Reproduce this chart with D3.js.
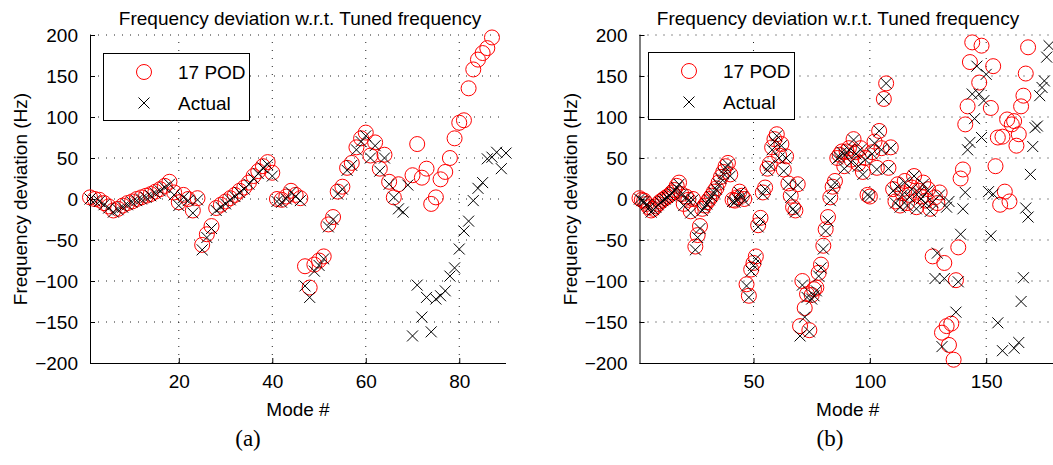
<!DOCTYPE html>
<html>
<head>
<meta charset="utf-8">
<script src="https://cdn.jsdelivr.net/npm/d3@7"></script>
<style>
  html, body { margin: 0; padding: 0; background: #fff; }
  svg { display: block; }
  text { font-family: "Liberation Sans", Arial, Helvetica, sans-serif; fill: #000; }
</style>
</head>
<body>
<svg id="chart" width="1053" height="465"></svg>
<script>
// Frequency deviation of each mode (Hz); index i is mode number i + 1, null = off scale.
const actualA = [
  0, -2, -3, -7, -11, -16, -13, -10, -7, -4,
  -2, 0, 2, 4, 7, 10, 14, 18, 5, -8,
  2, -2, -17, -1, -62, -47, -36, -14, -10, -6,
  -1, 3, 8, 12, 18, 25, 31, 38, 42, 28,
  -3, -4, 0, 8, 3, -2, -106, -120, -88, -81,
  -73, -34, -25, 6, 12, 35, 41, 60, 70, 77,
  50, 65, 34, 50, 18, 2, -12, -16, 17, -167,
  -105, -144, -120, -162, -122, -118, -112, -94, -84, -61,
  -39, -27, -2, 13, 20, 49, 51, 57, 37, 56
];
const podA = [
  2, 0, -1, -5, -9, -14, -12, -8, -5, -3,
  0, 2, 4, 6, 9, 12, 16, 21, 8, -4,
  5, 0, -14, 1, -56, -43, -33, -11, -7, -3,
  1, 5, 10, 14, 20, 28, 34, 40, 45, 32,
  0, -1, 3, 10, 5, 1, -82, -108, -80, -75,
  -70, -31, -22, 9, 15, 38, 44, 63, 74, 81,
  53, 69, 37, 54, 21, 2, 18, null, null, 29,
  67, 26, 37, -6, 2, 24, 33, 50, 74, 93,
  96, 135, 158, 170, 178, 184, 197, null, null, null
];
const actualB = [
  0, -2, -3, -7, -11, -16, -13, -10, -7, -4,
  -2, 0, 2, 4, 7, 10, 14, 18, 5, -8,
  2, -2, -17, -1, -62, -47, -36, -14, -10, -6,
  -1, 3, 8, 12, 18, 25, 31, 38, 42, 28,
  -3, -4, 0, 8, 3, -2, -106, -120, -88, -81,
  -73, -34, -25, 6, 12, 35, 41, 60, 70, 77,
  50, 65, 34, 50, 18, 2, -12, -16, 17, -167,
  -105, -144, -120, -162, -122, -118, -112, -94, -84, -61,
  -39, -27, -2, 13, 20, 49, 51, 57, 37, 56,
  60, 45, 72, 55, 40, 60, 30, 48, 5, 3,
  55, 68, 36, 83, 60, 122, 141, 37, 62, 10,
  -5, 15, -10, 5, 20, -8, 2, 12, 28, -12,
  8, 0, 18, -5, 10, -15, -4, -97, -66, 5,
  -180, -97, -10, -3, null, null, -138, -101, -43, -12,
  8, 60, 69, 128, 98, 162, 128, 75, 120, 152,
  9, -45, 6, null, -151, null, -185, null, null, null,
  null, -182, null, -175, -125, -96, -11, -22, 30, 64,
  87, 89, 126, 136, 144, 173, 187, null
];
const podB = [
  1, -1, -2, -6, -10, -14, -12, -9, -6, -3,
  -1, 1, 3, 5, 8, 11, 16, 20, 6, -6,
  3, -1, -15, 0, -58, -44, -33, -12, -8, -4,
  0, 4, 9, 13, 20, 27, 33, 40, 44, 30,
  -1, -2, 2, 9, 4, 0, -104, -118, -86, -78,
  -70, -32, -23, 8, 14, 37, 43, 63, 73, 79,
  53, 67, 36, 52, 19, 4, -10, -14, 18, -155,
  -100, -133, -116, -160, -117, -110, -108, -90, -80, -57,
  -37, -22, 2, 15, 22, 50, 54, 58, 40, 58,
  62, 48, 73, 57, 43, 62, 33, 50, 5, 3,
  57, 70, 38, 83, 62, 122, 141, 38, 63, 12,
  -3, 18, -8, 7, 22, -5, 5, 14, 28, -10,
  10, 3, 20, -2, 12, -12, -70, 2, -5, 8,
  -163, -78, -155, -178, -152, -196, -99, -59, 25, 36,
  91, 113, 167, 191, null, null, 142, 187, null, null,
  null, 111, 162, 40, 75, -7, 76, 9, 97, -3,
  91, 95, 65, 79, 113, 126, 153, 185, null, null,
  null, null, null, null, null, null, null, null
];

const yTicks = [-200, -150, -100, -50, 0, 50, 100, 150, 200];
const xTicksA = [20, 40, 60, 80];
const xTicksB = [50, 100, 150];
const seriesNames = ["17 POD", "Actual"];
const titleText = "Frequency deviation w.r.t. Tuned frequency";
const xLabel = "Mode #";
const yLabel = "Frequency deviation (Hz)";

const svg = d3.select("#chart");
const fmt = d => (d < 0 ? "\u2212" + Math.abs(d) : String(d));

function toPoints(values) {
  return values.map((v, i) => ({ mode: i + 1, v })).filter(d => d.v !== null);
}

function panel(cfg) {
  const x = d3.scaleLinear().domain(cfg.xDomain).range(cfg.xRange);
  const y = d3.scaleLinear().domain([-200, 200]).range([363, 35]);
  const g = svg.append("g");
  const [x0, x1] = cfg.xRange;

  // dotted grid
  g.append("g").selectAll("line").data(yTicks.filter(t => t > -200)).join("line")
    .attr("x1", x0).attr("x2", x1)
    .attr("y1", d => y(d)).attr("y2", d => y(d))
    .attr("stroke", "#222").attr("stroke-width", 1)
    .attr("stroke-dasharray", "1,7");
  g.append("g").selectAll("line").data(cfg.xTicks).join("line")
    .attr("x1", d => x(d)).attr("x2", d => x(d))
    .attr("y1", y(-200)).attr("y2", y(200))
    .attr("stroke", "#222").attr("stroke-width", 1)
    .attr("stroke-dasharray", "1,7");

  // axes (inward ticks, left and bottom only)
  const ax = d3.axisBottom(x).tickValues(cfg.xTicks).tickSize(-5).tickPadding(12).tickFormat(d3.format("d"));
  const ay = d3.axisLeft(y).tickValues(yTicks).tickSize(-5).tickPadding(12).tickFormat(fmt);
  const gx = g.append("g").attr("transform", `translate(0,${y(-200)})`).call(ax);
  const gy = g.append("g").attr("transform", `translate(${x0},0)`).call(ay);
  [gx, gy].forEach(a => {
    a.select(".domain").attr("stroke", "#000").attr("stroke-width", 1);
    a.selectAll(".tick line").attr("stroke", "#000");
    a.selectAll(".tick text").attr("font-size", 19).attr("font-family", "Liberation Sans, Arial, sans-serif").attr("fill", "#000");
  });
  gy.select(".domain").attr("d", `M0.5,${y(-200)}V${y(200)}`);
  gx.select(".domain").attr("d", `M${x0},0.5H${x1}`);

  // POD estimates: red open circles
  g.append("g").selectAll("circle").data(toPoints(cfg.pod)).join("circle")
    .attr("cx", d => x(d.mode)).attr("cy", d => y(d.v)).attr("r", 7.5)
    .attr("fill", "none").attr("stroke", "#ff0000").attr("stroke-width", 1);

  // actual values: black crosses
  const s = 5.5;
  g.append("g").selectAll("path").data(toPoints(cfg.actual)).join("path")
    .attr("d", d => {
      const cx = x(d.mode), cy = y(d.v);
      return `M${cx - s},${cy - s}L${cx + s},${cy + s}M${cx - s},${cy + s}L${cx + s},${cy - s}`;
    })
    .attr("fill", "none").attr("stroke", "#000").attr("stroke-width", 1);

  // legend
  const lg = g.append("g").attr("transform", `translate(${cfg.legend[0]},${cfg.legend[1]})`);
  lg.append("rect").attr("x", 0.5).attr("y", 0.5).attr("width", 146).attr("height", 67)
    .attr("fill", "#fff").attr("stroke", "#000").attr("stroke-width", 1);
  lg.append("circle").attr("cx", 41).attr("cy", 19).attr("r", 7.5)
    .attr("fill", "none").attr("stroke", "#ff0000");
  lg.append("path").attr("d", `M${41 - s},${50 - s}L${41 + s},${50 + s}M${41 - s},${50 + s}L${41 + s},${50 - s}`)
    .attr("stroke", "#000").attr("fill", "none");
  lg.selectAll("text").data(seriesNames).join("text")
    .attr("x", 75).attr("y", (d, i) => 19 + i * 31).attr("dy", "0.36em")
    .attr("font-size", 19).text(d => d);

  // titles and labels
  const cx = (x0 + x1) / 2;
  g.append("text").attr("x", cfg.titleX).attr("y", 25).attr("text-anchor", "middle")
    .attr("font-size", 19).text(titleText);
  g.append("text").attr("x", cx).attr("y", 416).attr("text-anchor", "middle")
    .attr("font-size", 19).text(xLabel);
  g.append("text").attr("transform", `translate(${cfg.yLabelX},199) rotate(-90)`)
    .attr("text-anchor", "middle").attr("font-size", 19).text(yLabel);
  g.append("text").attr("x", cfg.subX).attr("y", 446).attr("text-anchor", "middle")
    .style("font-family", "'Liberation Serif', 'Times New Roman', serif")
    .attr("font-size", 23).text(cfg.sub);
}

panel({
  xDomain: [1, 90], xRange: [90, 506], xTicks: xTicksA, titleX: 300,
  pod: podA, actual: actualA, legend: [103, 53], yLabelX: 27, subX: 248, sub: "(a)"
});
panel({
  xDomain: [1, 180], xRange: [639.5, 1056], xTicks: xTicksB, titleX: 838,
  pod: podB, actual: actualB, legend: [648, 52], yLabelX: 577, subX: 830, sub: "(b)"
});
</script>
</body>
</html>
